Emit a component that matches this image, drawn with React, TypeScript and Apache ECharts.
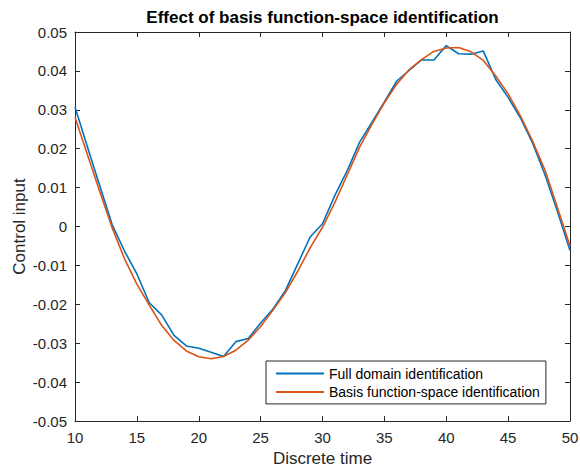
import React, { useEffect, useRef } from "react";
import * as echarts from "echarts";

const times = [
  10, 11, 12, 13, 14, 15, 16, 17, 18, 19, 20, 21, 22, 23, 24, 25, 26, 27, 28, 29, 30,
  31, 32, 33, 34, 35, 36, 37, 38, 39, 40, 41, 42, 43, 44, 45, 46, 47, 48, 49, 50,
];

const fullDomain = [
  0.0307, 0.0205, 0.0105, 0.0005, -0.0063, -0.0122, -0.0196, -0.0227, -0.028, -0.0307,
  -0.0313, -0.0323, -0.0334, -0.0296, -0.0288, -0.0248, -0.0212, -0.0165, -0.0096, -0.0027,
  0.0007, 0.008, 0.0144, 0.0217, 0.0268, 0.032, 0.0374, 0.0401, 0.0428, 0.0428,
  0.0465, 0.0444, 0.0443, 0.0451, 0.0378, 0.0332, 0.0279, 0.0213, 0.0131, 0.0037,
  -0.0062,
];

const basisSpace = [
  0.0281, 0.0185, 0.009, -0.0003, -0.0083, -0.0148, -0.0202, -0.0254, -0.0293, -0.032,
  -0.0335, -0.034, -0.0334, -0.0318, -0.0292, -0.0257, -0.0215, -0.017, -0.0115, -0.0055,
  -0.0002, 0.0062, 0.0133, 0.0204, 0.0263, 0.0318, 0.0366, 0.0403, 0.0429, 0.045,
  0.0459, 0.046, 0.0449, 0.0427, 0.0387, 0.0341, 0.0284, 0.0218, 0.0143, 0.0047,
  -0.005,
];

const seriesNames = ["Full domain identification", "Basis function-space identification"];
const titleText = "Effect of basis function-space identification";
const xLabel = "Discrete time";
const yLabel = "Control input";

const FONT = '"Liberation Sans", Arial, Helvetica, sans-serif';
const AX = "#262626";

export default function App() {
  const ref = useRef<HTMLDivElement>(null);
  useEffect(() => {
    if (!ref.current) return;
    const chart = echarts.init(ref.current, null, { renderer: "svg" });
    const pairs = (vals: number[]) => times.map((t, i) => [t, vals[i]]);
    const xCommon = {
      type: "value",
      min: 10,
      max: 50,
      interval: 5,
      splitLine: { show: false },
      axisLine: { show: true, onZero: false, lineStyle: { color: AX, width: 1 } },
      axisTick: { show: true, inside: true, length: 5, lineStyle: { color: AX } },
    };
    const yCommon = {
      type: "value",
      min: -0.05,
      max: 0.05,
      interval: 0.01,
      splitLine: { show: false },
      axisLine: { show: true, onZero: false, lineStyle: { color: AX, width: 1 } },
      axisTick: { show: true, inside: true, length: 5, lineStyle: { color: AX } },
    };
    chart.setOption({
      animation: false,
      backgroundColor: "#ffffff",
      textStyle: { fontFamily: FONT },
      grid: {
        left: 75,
        right: 10,
        top: 32,
        bottom: 50,
        containLabel: false,
        outerBoundsMode: "none",
      },
      graphic: [
        {
          type: "text",
          x: 322.5,
          y: 17.5,
          style: {
            text: titleText,
            align: "center",
            verticalAlign: "middle",
            font: `bold 17px ${FONT}`,
            fill: "#000",
          },
        },
      ],
      xAxis: [
        {
          ...xCommon,
          position: "bottom",
          name: xLabel,
          nameLocation: "middle",
          nameGap: 29,
          nameTextStyle: { fontSize: 17, color: AX, fontFamily: FONT },
          axisLabel: { show: true, margin: 9, fontSize: 15, color: AX, fontFamily: FONT },
        },
        {
          ...xCommon,
          position: "top",
          axisLabel: { show: false },
        },
      ],
      yAxis: [
        {
          ...yCommon,
          position: "left",
          name: yLabel,
          nameLocation: "middle",
          nameGap: 47,
          nameMoveOverlap: false,
          nameTextStyle: { fontSize: 17, color: AX, fontFamily: FONT },
          axisLabel: { show: true, margin: 8, fontSize: 15, color: AX, fontFamily: FONT },
        },
        {
          ...yCommon,
          position: "right",
          axisLabel: { show: false },
        },
      ],
      legend: {
        show: true,
        orient: "vertical",
        left: 266,
        top: 361,
        padding: [5.5, 6, 5, 9],
        itemGap: 4.4,
        itemWidth: 48,
        itemHeight: 14,
        borderColor: AX,
        borderWidth: 1,
        borderRadius: 0,
        backgroundColor: "#ffffff",
        itemStyle: { opacity: 0 },
        textStyle: { fontSize: 14, color: "#000", fontFamily: FONT, lineHeight: 14 },
        data: seriesNames,
      },
      series: [
        {
          name: seriesNames[0],
          type: "line",
          xAxisIndex: 0,
          yAxisIndex: 0,
          data: pairs(fullDomain),
          symbol: "none",
          showSymbol: false,
          lineStyle: { color: "#0072BD", width: 1.6 },
          itemStyle: { color: "#0072BD" },
        },
        {
          name: seriesNames[1],
          type: "line",
          xAxisIndex: 0,
          yAxisIndex: 0,
          data: pairs(basisSpace),
          symbol: "none",
          showSymbol: false,
          lineStyle: { color: "#D95319", width: 1.6 },
          itemStyle: { color: "#D95319" },
        },
      ],
    });
    return () => chart.dispose();
  }, []);
  return (
    <div
      ref={ref}
      style={{ position: "absolute", left: 0, top: 0, width: 580, height: 471 }}
    />
  );
}
